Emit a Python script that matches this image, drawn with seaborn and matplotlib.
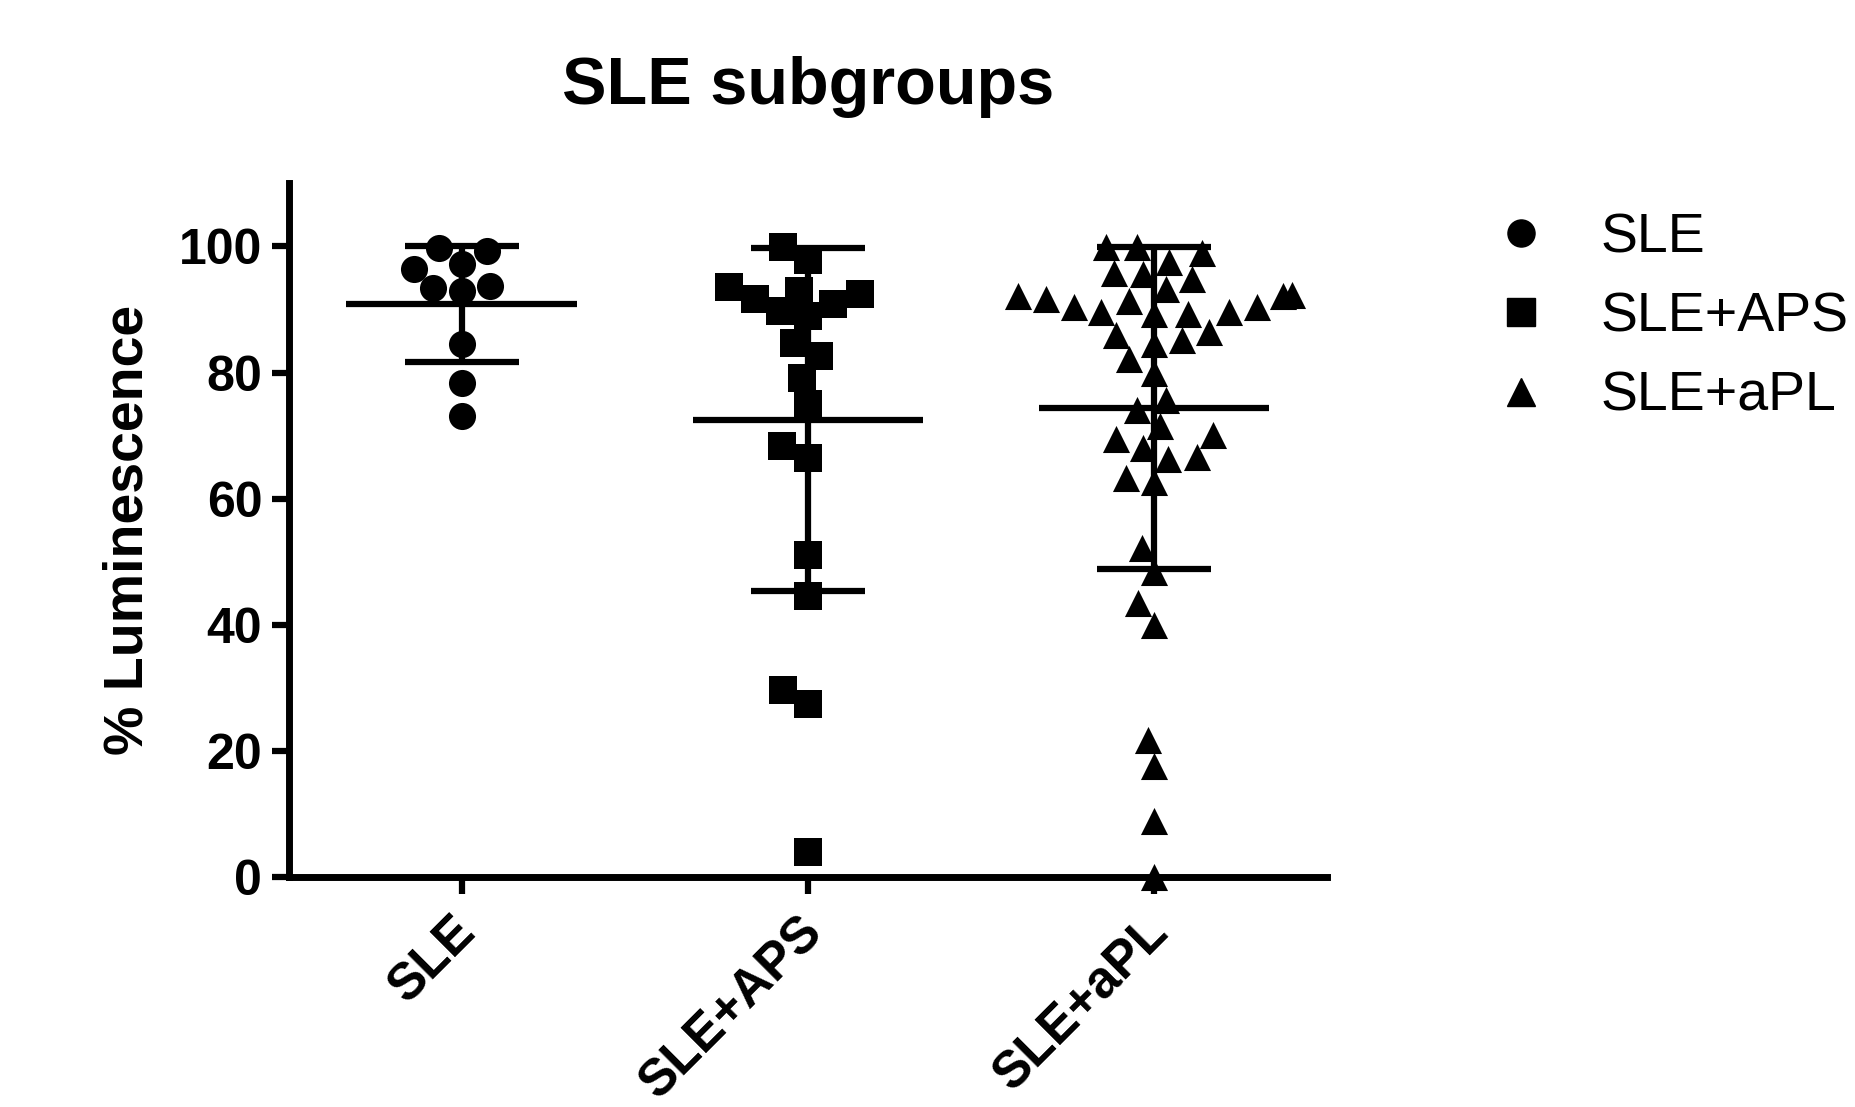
import numpy as np
import pandas as pd
import matplotlib
matplotlib.use("Agg")
import matplotlib.pyplot as plt
import matplotlib.transforms as mtransforms
from matplotlib.lines import Line2D
import seaborn as sns

# values (% luminescence)
groups = ["SLE", "SLE+APS", "SLE+aPL"]
markers = ["o", "s", "^"]
sle = [97.2, 93.7, 92.9, 99.7, 93.4, 96.5, 99.3, 84.5, 78.3, 73.1]
sle_aps = [99.9, 97.9, 93.0, 91.7, 89.7, 90.8, 92.4, 88.9, 93.6, 84.7,
           82.6, 79.2, 75.0, 68.3, 66.4, 51.0, 44.6, 29.7, 27.5, 3.9]
sle_apl = [99.9, 97.5, 98.9, 99.9, 94.9, 95.7, 95.8, 92.3, 92.1, 91.3,
           90.4, 89.6, 89.3, 89.3, 89.6, 90.4, 91.7, 92.2, 93.2, 86.5,
           85.9, 85.1, 84.6, 82.1, 80.0, 75.7, 74.1, 71.5, 69.5, 70.1,
           68.1, 66.6, 66.3, 63.3, 62.6, 52.2, 48.3, 43.4, 39.9, 21.8,
           17.6, 8.9, 0.0]
yticks = [0, 20, 40, 60, 80, 100]


def main():
    sns.set_style("ticks")
    plt.rcParams["font.family"] = ["Liberation Sans", "DejaVu Sans"]
    for key in ["text.color", "axes.labelcolor", "xtick.color", "ytick.color", "axes.edgecolor"]:
        plt.rcParams[key] = "black"

    values = [sle, sle_aps, sle_apl]
    df = pd.DataFrame({
        "group": np.repeat(groups, [len(v) for v in values]),
        "value": np.concatenate(values),
    })

    fig, ax = plt.subplots(figsize=(18.55, 11.07), dpi=100)
    fig.subplots_adjust(left=0.1556, right=0.7154, top=0.8343, bottom=0.2078)

    # ---- Scatter columns ----
    for g, m in zip(groups, markers):
        sns.swarmplot(data=df[df["group"] == g], x="group", y="value",
                      order=groups, marker=m, color="black", size=19.5,
                      linewidth=0, ax=ax, warn_thresh=1)
    for c in ax.collections:
        c.set_clip_on(False)

    # ---- Mean +/- SD ----
    stats = df.groupby("group", sort=False)["value"].agg(["mean", "std"])
    for i, g in enumerate(groups):
        m, s = stats.loc[g, "mean"], stats.loc[g, "std"]
        ax.hlines(m, i - 0.333, i + 0.333, color="black", lw=4.5, zorder=5)
        ax.hlines([m - s, m + s], i - 0.165, i + 0.165, color="black", lw=4.5, zorder=5)
        ax.vlines(i, m - s, m + s, color="black", lw=4.5, zorder=5)

    # ---- Axes styling ----
    ax.set_xlim(-0.5, 2.5)
    ax.set_ylim(0, 110)
    ax.set_yticks(yticks)
    sns.despine(ax=ax)
    for side in ["left", "bottom"]:
        ax.spines[side].set_linewidth(5)
    ax.tick_params(axis="both", length=12, width=4.5, color="black", pad=7)
    ax.set_yticklabels([str(t) for t in yticks], fontsize=36, fontweight="bold")
    ax.set_xticks(range(len(groups)))
    ax.set_xticklabels(groups, fontsize=37, fontweight="bold", rotation=45,
                       ha="right", va="center", rotation_mode="anchor")
    shift = mtransforms.ScaledTranslation(0.07, -0.21, fig.dpi_scale_trans)
    for lbl in ax.get_xticklabels():
        lbl.set_transform(lbl.get_transform() + shift)
    ax.set_xlabel("")
    ax.set_ylabel("% Luminescence", fontsize=40, fontweight="bold")
    ax.yaxis.set_label_coords(-0.129, 0.5)
    ax.set_title("SLE subgroups", fontsize=48, fontweight="bold", pad=57)

    # ---- Legend ----
    handles = [Line2D([], [], marker=m, color="black", linestyle="", markersize=19.5)
               for m in markers]
    fig.legend(handles, groups, loc="upper left", bbox_to_anchor=(0.805, 0.808),
               frameon=False, fontsize=40, handlelength=1.0, handletextpad=0.93,
               labelspacing=0.49, borderpad=0, borderaxespad=0)

    fig.savefig("out.png", dpi=100)
    plt.close(fig)


if __name__ == "__main__":
    main()
